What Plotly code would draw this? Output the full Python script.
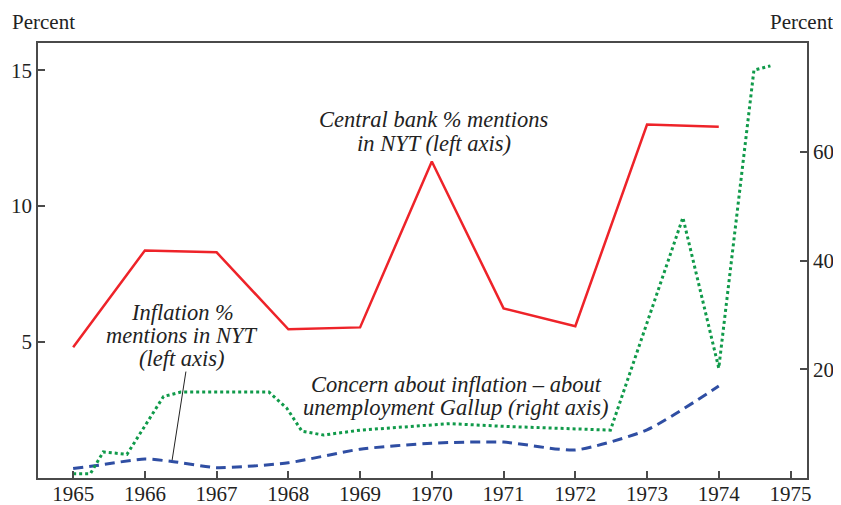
import plotly.graph_objects as go

# Central bank % mentions in NYT (left axis)
cb_years = [1965, 1966, 1967, 1968, 1969, 1970, 1971, 1972, 1973, 1974]
cb_pct = [4.81, 8.37, 8.30, 5.47, 5.54, 11.64, 6.24, 5.58, 13.0, 12.92]

# Inflation % mentions in NYT (left axis)
infl_years = [1965, 1965.3, 1966, 1966.4, 1967, 1968, 1969, 1970, 1971, 1972, 1973, 1974]
infl_pct = [0.35, 0.45, 0.70, 0.60, 0.38, 0.56, 1.06, 1.28, 1.32, 1.03, 1.77, 3.38]

# Concern about inflation - about unemployment, Gallup (right axis)
gallup_years = [1965, 1965.24, 1965.42, 1965.75, 1966.26, 1966.5, 1967.73, 1967.98,
                1968.19, 1968.49, 1969.0, 1970.25, 1971.0, 1972.0, 1972.49,
                1973.5, 1974.0, 1974.49, 1974.72]
gallup_pct = [0.8, 0.8, 4.8, 4.35, 15.0, 15.8, 15.8, 12.8,
              8.6, 7.9, 8.8, 10.0, 9.5, 9.0, 8.8,
              47.9, 20.2, 75.0, 75.8]

x_ticks = list(range(1965, 1976))

# label lines: (text, x, y on left axis)
cb_label = [("Central bank % mentions", 1970.03, 13.2), ("in NYT (left axis)", 1970.03, 12.3)]
infl_label = [("Inflation %", 1966.52, 6.09), ("mentions in NYT", 1966.52, 5.25),
              ("(left axis)", 1966.52, 4.41)]
gallup_label = [("Concern about inflation \u2013 about", 1970.34, 3.45),
                ("unemployment Gallup (right axis)", 1970.34, 2.61)]

serif = "Liberation Serif, Times New Roman, serif"
axis_color = "#4a4a4a"

fig = go.Figure()

fig.add_trace(go.Scatter(
    x=cb_years, y=cb_pct, mode="lines",
    line=dict(color="#ee2329", width=2.5),
    name="Central bank % mentions in NYT", yaxis="y"
))

fig.add_trace(go.Scatter(
    x=gallup_years, y=gallup_pct, mode="lines",
    line=dict(color="#109a4a", width=3, dash="3px,3px"),
    name="Concern about inflation - about unemployment Gallup", yaxis="y2"
))

fig.add_trace(go.Scatter(
    x=infl_years, y=infl_pct, mode="lines",
    line=dict(color="#2f4ea3", width=3, dash="10px,6px", shape="spline", smoothing=0.6),
    name="Inflation % mentions in NYT", yaxis="y"
))

annot_font = dict(family=serif, size=22.5, color="#222")
tick_font = dict(family=serif, size=21, color="#222")

# page body has an 8px margin, so the figure is made 8px smaller and margins shifted
fig.update_layout(
    width=833, height=497,
    margin=dict(l=30, r=34, t=35, b=27),
    plot_bgcolor="white", paper_bgcolor="white",
    showlegend=False,
    font=dict(family=serif, size=21, color="#222"),
    xaxis=dict(
        range=[1964.51, 1975.23], tickvals=x_ticks, tickfont=tick_font,
        ticks="inside", ticklen=7, tickwidth=1.5, tickcolor=axis_color,
        ticklabelstandoff=-4,
        showline=True, linecolor=axis_color, linewidth=1.5, mirror=True,
        showgrid=False, zeroline=False, automargin=False,
    ),
    yaxis=dict(
        range=[0, 16], tickvals=[5, 10, 15], tickfont=tick_font,
        ticks="inside", ticklen=7, tickwidth=1.5, tickcolor=axis_color,
        showline=True, linecolor=axis_color, linewidth=1.5, mirror=True,
        showgrid=False, zeroline=False, automargin=False,
    ),
    yaxis2=dict(
        range=[0, 80], tickvals=[20, 40, 60], overlaying="y", side="right",
        tickfont=tick_font,
        ticks="inside", ticklen=7, tickwidth=1.5, tickcolor=axis_color,
        showline=True, linecolor=axis_color, linewidth=1.5,
        showgrid=False, zeroline=False, automargin=False,
    ),
)

# Axis unit labels
fig.add_annotation(text="Percent", xref="paper", yref="paper", x=-0.036, y=1.049,
                   xanchor="left", yanchor="middle", showarrow=False,
                   font=dict(family=serif, size=21, color="#222"))
fig.add_annotation(text="Percent", xref="paper", yref="paper", x=1.036, y=1.049,
                   xanchor="right", yanchor="middle", showarrow=False,
                   font=dict(family=serif, size=21, color="#222"))

# Series labels, one annotation per line for tight spacing
for text, lx, ly in cb_label + infl_label + gallup_label:
    fig.add_annotation(text=f"<i>{text}</i>", x=lx, y=ly, showarrow=False,
                       font=annot_font)

# Pointer from inflation label to its line
fig.add_annotation(text="", x=1966.38, y=0.66, ax=14, ay=-90,
                   showarrow=True, arrowhead=0, arrowwidth=1, arrowcolor="#222",
                   standoff=0)

fig.write_html("out.html")
